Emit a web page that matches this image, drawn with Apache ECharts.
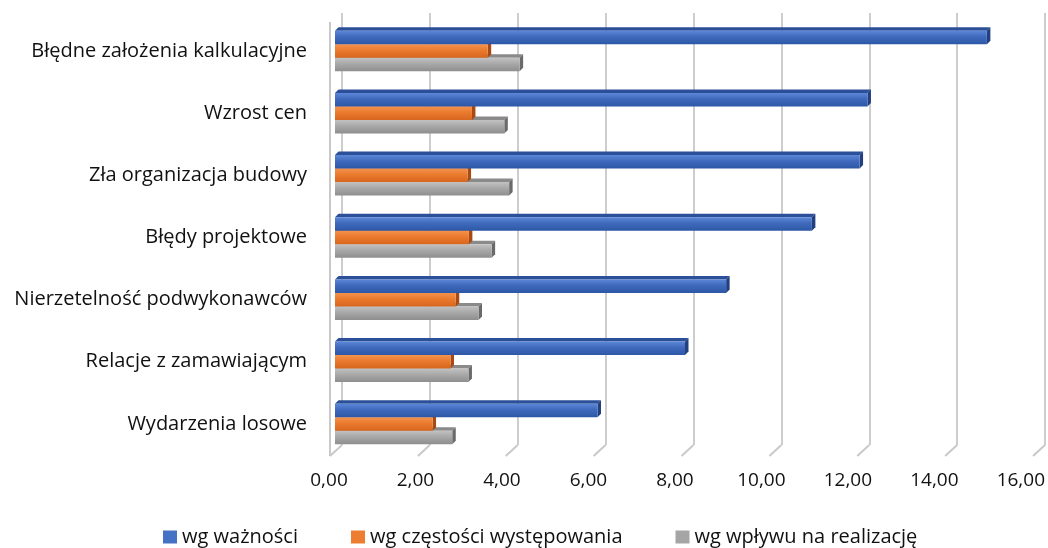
<!DOCTYPE html>
<html>
<head>
<meta charset="utf-8">
<script src="https://cdn.jsdelivr.net/npm/echarts@6/dist/echarts.min.js"></script>
<style>
  html, body { margin: 0; padding: 0; background: #ffffff; }
  #chart { width: 1048px; height: 548px; }
</style>
</head>
<body>
<div id="chart"></div>
<script>
// Categories, top to bottom
const categories = [
  'Błędne założenia kalkulacyjne',
  'Wzrost cen',
  'Zła organizacja budowy',
  'Błędy projektowe',
  'Nierzetelność podwykonawców',
  'Relacje z zamawiającym',
  'Wydarzenia losowe'
];
const seriesNames = ['wg ważności', 'wg częstości występowania', 'wg wpływu na realizację'];
const importance = [14.90, 12.17, 11.99, 10.90, 8.94, 8.00, 6.00];
const frequency  = [3.49, 3.13, 3.03, 3.06, 2.76, 2.64, 2.23];
const impact     = [4.22, 3.87, 3.98, 3.58, 3.28, 3.05, 2.68];
const xTicks = [0, 2, 4, 6, 8, 10, 12, 14, 16];

const FONT = '"Open Sans", "Noto Sans", sans-serif';

// Faces of a pseudo-3D bar: front gradient, top face, right side face
const palettes = [
  { base: '#4472C4', front: ['#5c88d8', '#3f69bb', '#2d57a6'], top: '#2b4f98', side: '#223f80' },
  { base: '#ED7D31', front: ['#f4924d', '#ea7a2e', '#d8661e'], top: '#c45e1c', side: '#a84a12' },
  { base: '#A5A5A5', front: ['#c2c2c2', '#a8a8a8', '#8e8e8e'], top: '#8a8a8a', side: '#6a6a6a' }
];

const BAR_H = 13.5;
const DEPTH = 3.5;

function makeRender(slot) {
  const p = palettes[slot];
  return function (params, api) {
    const cat = api.value(1);
    const start = api.coord([0, cat]);
    const end = api.coord([api.value(0), cat]);
    const y = start[1] - 1.5 * BAR_H + slot * BAR_H;
    const x0 = start[0], x1 = end[0];
    return {
      type: 'group',
      children: [
        { type: 'polygon',
          shape: { points: [[x0, y], [x0 + DEPTH, y - DEPTH], [x1 + DEPTH, y - DEPTH], [x1, y]] },
          style: { fill: p.top } },
        { type: 'polygon',
          shape: { points: [[x1, y], [x1 + DEPTH, y - DEPTH], [x1 + DEPTH, y + BAR_H - DEPTH], [x1, y + BAR_H]] },
          style: { fill: p.side } },
        { type: 'rect',
          shape: { x: x0, y: y, width: x1 - x0, height: BAR_H },
          style: { fill: new echarts.graphic.LinearGradient(0, 0, 0, 1, [
            { offset: 0, color: p.front[0] },
            { offset: 0.45, color: p.front[1] },
            { offset: 1, color: p.front[2] }
          ]) } }
      ]
    };
  };
}

function barSeries(slot, values) {
  return {
    name: seriesNames[slot],
    type: 'custom',
    xAxisIndex: 0,
    yAxisIndex: 0,
    z: 10 - slot,
    clip: false,
    itemStyle: { color: palettes[slot].base },
    encode: { x: 0, y: 1 },
    data: values.map((v, i) => [v, i]),
    renderItem: makeRender(slot)
  };
}

// Floor edge strokes under each back gridline plus the left wall edge
function floorRender(params, api) {
  const p = api.coord([api.value(0), 0]);
  const children = [
    { type: 'line', shape: { x1: p[0], y1: p[1], x2: p[0] - 12, y2: p[1] + 11 },
      style: { stroke: '#c9c9c9', lineWidth: 2 } }
  ];
  if (api.value(0) === 0) {
    const topP = api.coord([0, 1]);
    children.push({ type: 'line',
      shape: { x1: p[0] - 12, y1: topP[1] + 9, x2: p[0] - 12, y2: p[1] + 11 },
      style: { stroke: '#c9c9c9', lineWidth: 2 } });
  }
  return { type: 'group', children };
}

const chart = echarts.init(document.getElementById('chart'), null, { renderer: 'canvas' });

chart.setOption({
  animation: false,
  backgroundColor: '#ffffff',
  grid: [
    // front plane holding the bars
    { left: 335, right: 13, top: 20, bottom: 93 },
    // back wall with gridlines
    { left: 342, right: 3, top: 13, bottom: 103 },
    // floor front edge carrying the tick labels
    { left: 329, right: 26, top: 20, bottom: 91 }
  ],
  xAxis: [
    { gridIndex: 0, type: 'value', min: 0, max: 16, interval: 2,
      axisLine: { show: false }, axisTick: { show: false },
      axisLabel: { show: false }, splitLine: { show: false } },
    { gridIndex: 1, type: 'value', min: 0, max: 16, interval: 2,
      axisLine: { show: false }, axisTick: { show: false }, axisLabel: { show: false },
      splitLine: { show: true, lineStyle: { color: '#cdcdcd', width: 2 } } },
    { gridIndex: 2, type: 'value', min: 0, max: 16, interval: 2,
      axisLine: { show: false }, axisTick: { show: false }, splitLine: { show: false },
      axisLabel: { show: true, margin: 14, color: '#111111', fontFamily: FONT, fontSize: 19,
        formatter: v => v.toFixed(2).replace('.', ',') } }
  ],
  yAxis: [
    { gridIndex: 0, type: 'category', data: categories, inverse: true,
      axisLine: { show: false }, axisTick: { show: false }, splitLine: { show: false },
      axisLabel: { margin: 28, color: '#111111', fontFamily: FONT, fontSize: 20, padding: [5, 0, 0, 0] } },
    { gridIndex: 1, type: 'value', min: 0, max: 1, show: false },
    { gridIndex: 2, type: 'value', min: 0, max: 1, show: false }
  ],
  legend: {
    top: 522,
    left: 158,
    itemWidth: 14,
    itemHeight: 13,
    itemGap: 53,
    icon: 'rect',
    textStyle: { color: '#111111', fontFamily: FONT, fontSize: 20 },
    data: seriesNames
  },
  series: [
    {
      type: 'custom',
      xAxisIndex: 1,
      yAxisIndex: 1,
      z: 1,
      clip: false,
      silent: true,
      encode: { x: 0 },
      data: xTicks.map(v => [v]),
      renderItem: floorRender
    },
    barSeries(0, importance),
    barSeries(1, frequency),
    barSeries(2, impact)
  ]
});
</script>
</body>
</html>
